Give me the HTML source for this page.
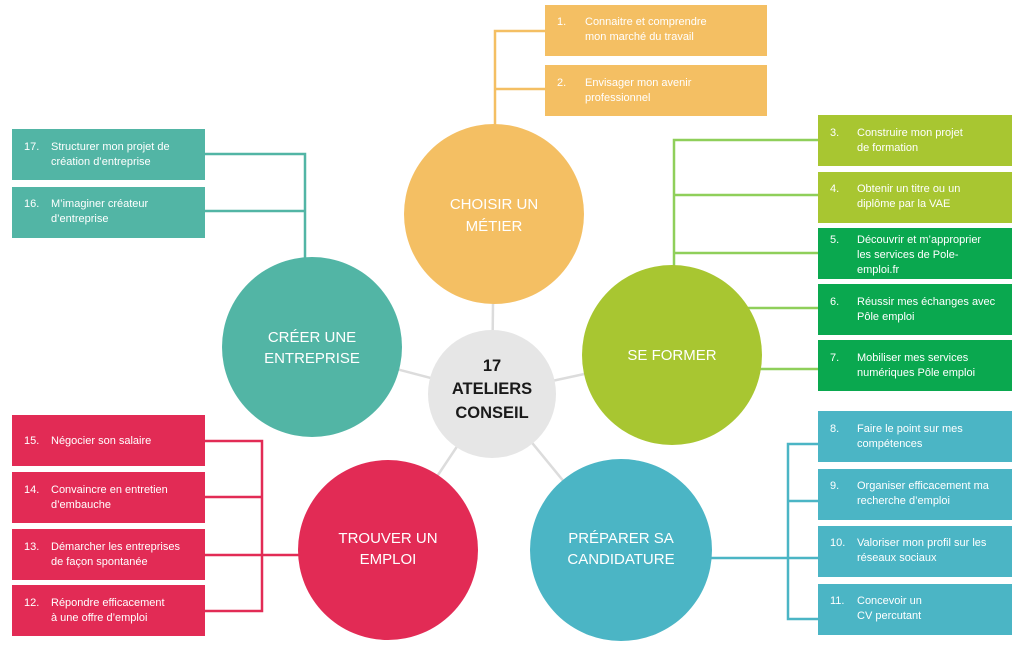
<!DOCTYPE html>
<html><head><meta charset="utf-8"><style>
html,body{margin:0;padding:0;background:#fff;}
svg{display:block;font-family:"Liberation Sans",sans-serif;}
.b{font-size:11px;fill:#fff;}
.c{font-size:15px;fill:#fff;text-anchor:middle;}
</style></head><body>
<svg width="1024" height="645" viewBox="0 0 1024 645" xmlns="http://www.w3.org/2000/svg">
<g stroke="#dcdcdc" stroke-width="2.5">
<line x1="492" y1="394" x2="494" y2="214"/>
<line x1="492" y1="394" x2="312" y2="347"/>
<line x1="492" y1="394" x2="672" y2="355"/>
<line x1="492" y1="394" x2="388" y2="550"/>
<line x1="492" y1="394" x2="620" y2="550"/>
</g>
<g stroke="#f4bf63" stroke-width="2.5" fill="none">
<polyline points="545,31 495,31 495,130"/>
<line x1="495" y1="89" x2="545" y2="89"/>
</g>
<g stroke="#8fcf5a" stroke-width="2.5" fill="none">
<polyline points="818,140 674,140 674,270"/>
<line x1="674" y1="195" x2="818" y2="195"/>
<line x1="674" y1="253" x2="818" y2="253"/>
<line x1="740" y1="308" x2="818" y2="308"/>
<line x1="755" y1="369" x2="818" y2="369"/>
</g>
<g stroke="#52b5a5" stroke-width="2.5" fill="none">
<polyline points="205,154 305,154 305,260"/>
<line x1="205" y1="211" x2="305" y2="211"/>
</g>
<g stroke="#e22b55" stroke-width="2.5" fill="none">
<polyline points="205,441 262,441 262,611 205,611"/>
<line x1="205" y1="497" x2="262" y2="497"/>
<line x1="205" y1="555" x2="300" y2="555"/>
</g>
<g stroke="#4bb5c5" stroke-width="2.5" fill="none">
<polyline points="818,444 788,444 788,619 818,619"/>
<line x1="788" y1="501" x2="818" y2="501"/>
<line x1="705" y1="558" x2="818" y2="558"/>
</g>

<circle cx="494" cy="214" r="90" fill="#f4bf63"/>
<circle cx="312" cy="347" r="90" fill="#52b5a5"/>
<circle cx="672" cy="355" r="90" fill="#a8c631"/>
<circle cx="388" cy="550" r="90" fill="#e22b55"/>
<circle cx="621" cy="550" r="91" fill="#4bb5c5"/>
<circle cx="492" cy="394" r="64" fill="#e6e6e6"/>

<text class="c" x="494" y="209">CHOISIR UN</text><text class="c" x="494" y="231">MÉTIER</text>
<text class="c" x="312" y="342">CRÉER UNE</text><text class="c" x="312" y="363">ENTREPRISE</text>
<text class="c" x="672" y="360">SE FORMER</text>
<text class="c" x="388" y="543">TROUVER UN</text><text class="c" x="388" y="564">EMPLOI</text>
<text class="c" x="621" y="543">PRÉPARER SA</text><text class="c" x="621" y="564">CANDIDATURE</text>
<g font-weight="bold" font-size="16.5" fill="#1a1a1a" text-anchor="middle">
<text x="492" y="371">17</text><text x="492" y="394">ATELIERS</text><text x="492" y="418">CONSEIL</text>
</g>

<rect x="545" y="5" width="222" height="51" fill="#f4bf63"/>
<rect x="545" y="65" width="222" height="51" fill="#f4bf63"/>
<text class="b" x="557" y="25">1.</text><text class="b" x="585" y="25">Connaitre et comprendre</text><text class="b" x="585" y="40">mon marché du travail</text>
<text class="b" x="557" y="86">2.</text><text class="b" x="585" y="86">Envisager mon avenir</text><text class="b" x="585" y="101">professionnel</text>

<rect x="818" y="115" width="194" height="51" fill="#a8c631"/>
<rect x="818" y="172" width="194" height="51" fill="#a8c631"/>
<rect x="818" y="228" width="194" height="51" fill="#0aa84f"/>
<rect x="818" y="284" width="194" height="51" fill="#0aa84f"/>
<rect x="818" y="340" width="194" height="51" fill="#0aa84f"/>
<text class="b" x="830" y="136">3.</text><text class="b" x="857" y="136">Construire mon projet</text><text class="b" x="857" y="151">de formation</text>
<text class="b" x="830" y="192">4.</text><text class="b" x="857" y="192">Obtenir un titre ou un</text><text class="b" x="857" y="207">diplôme par la VAE</text>
<text class="b" x="830" y="243">5.</text><text class="b" x="857" y="243">Découvrir et m’approprier</text><text class="b" x="857" y="258">les services de Pole-</text><text class="b" x="857" y="273">emploi.fr</text>
<text class="b" x="830" y="305">6.</text><text class="b" x="857" y="305">Réussir mes échanges avec</text><text class="b" x="857" y="320">Pôle emploi</text>
<text class="b" x="830" y="361">7.</text><text class="b" x="857" y="361">Mobiliser mes services</text><text class="b" x="857" y="376">numériques Pôle emploi</text>

<rect x="818" y="411" width="194" height="51" fill="#4bb5c5"/>
<rect x="818" y="469" width="194" height="51" fill="#4bb5c5"/>
<rect x="818" y="526" width="194" height="51" fill="#4bb5c5"/>
<rect x="818" y="584" width="194" height="51" fill="#4bb5c5"/>
<text class="b" x="830" y="432">8.</text><text class="b" x="857" y="432">Faire le point sur mes</text><text class="b" x="857" y="447">compétences</text>
<text class="b" x="830" y="489">9.</text><text class="b" x="857" y="489">Organiser efficacement ma</text><text class="b" x="857" y="504">recherche d’emploi</text>
<text class="b" x="830" y="546">10.</text><text class="b" x="857" y="546">Valoriser mon profil sur les</text><text class="b" x="857" y="561">réseaux sociaux</text>
<text class="b" x="830" y="604">11.</text><text class="b" x="857" y="604">Concevoir un</text><text class="b" x="857" y="619">CV percutant</text>

<rect x="12" y="129" width="193" height="51" fill="#52b5a5"/>
<rect x="12" y="187" width="193" height="51" fill="#52b5a5"/>
<text class="b" x="24" y="150">17.</text><text class="b" x="51" y="150">Structurer mon projet de</text><text class="b" x="51" y="165">création d’entreprise</text>
<text class="b" x="24" y="207">16.</text><text class="b" x="51" y="207">M’imaginer créateur</text><text class="b" x="51" y="222">d’entreprise</text>

<rect x="12" y="415" width="193" height="51" fill="#e22b55"/>
<rect x="12" y="472" width="193" height="51" fill="#e22b55"/>
<rect x="12" y="529" width="193" height="51" fill="#e22b55"/>
<rect x="12" y="585" width="193" height="51" fill="#e22b55"/>
<text class="b" x="24" y="444">15.</text><text class="b" x="51" y="444">Négocier son salaire</text>
<text class="b" x="24" y="493">14.</text><text class="b" x="51" y="493">Convaincre en entretien</text><text class="b" x="51" y="508">d’embauche</text>
<text class="b" x="24" y="550">13.</text><text class="b" x="51" y="550">Démarcher les entreprises</text><text class="b" x="51" y="565">de façon spontanée</text>
<text class="b" x="24" y="606">12.</text><text class="b" x="51" y="606">Répondre efficacement</text><text class="b" x="51" y="621">à une offre d’emploi</text>
</svg>
</body></html>
